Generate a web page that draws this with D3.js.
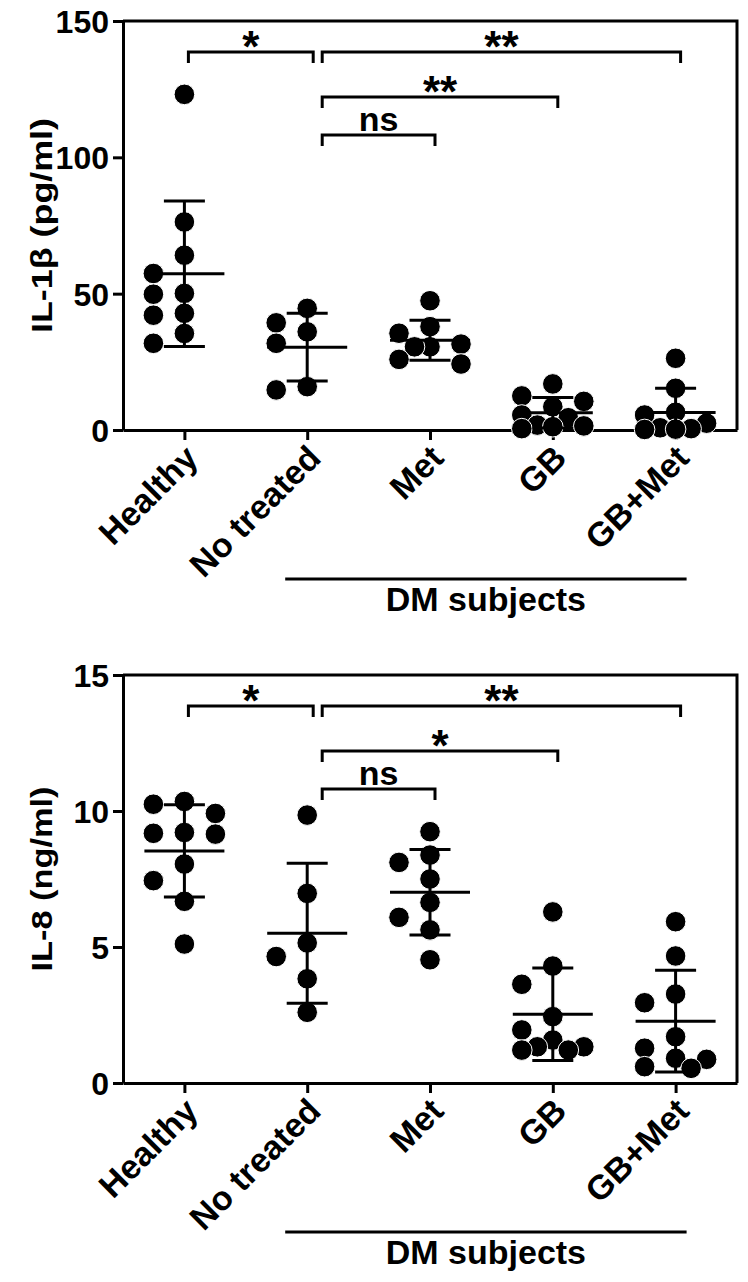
<!DOCTYPE html>
<html><head><meta charset="utf-8">
<script src="https://cdn.jsdelivr.net/npm/d3@7"></script>
<style>
body{margin:0;background:#fff}
svg{display:block}
text{font-family:"Liberation Sans",Arial,Helvetica,sans-serif;font-weight:bold;fill:#000}
</style>
</head><body>
<svg id="chart" width="748" height="1282"></svg>
<script>
// ---------- data ----------
const categories = ["Healthy", "No treated", "Met", "GB", "GB+Met"];

// IL-1β (pg/ml)
const il1bHealthy   = [123.1, 76.3, 64.1, 57.4, 50.1, 49.8, 42.8, 42.1, 35.4, 31.8];
const il1bNoTreated = [44.6, 39.3, 36.0, 31.8, 15.9, 14.7];
const il1bMet       = [47.4, 37.9, 35.5, 31.5, 30.5, 30.5, 25.9, 24.2];
const il1bGB        = [16.9, 12.5, 10.5, 8.5, 5.5, 4.5, 1.8, 1.5, 1.2, 0.5];
const il1bGBMet     = [26.3, 15.3, 6.5, 5.5, 2.5, 0.8, 0.5, 0.3, 0.2];
const il1bTicks     = [0, 50, 100, 150];
const il1bSignif    = ["*", "**", "**", "ns"];

// IL-8 (ng/ml)
const il8Healthy    = [10.35, 10.25, 9.91, 9.21, 9.18, 9.15, 8.05, 7.44, 6.68, 5.11];
const il8NoTreated  = [9.85, 6.97, 5.15, 4.65, 3.83, 2.6];
const il8Met        = [9.24, 8.38, 8.11, 7.5, 6.64, 6.09, 5.63, 4.53];
const il8GB         = [6.29, 4.3, 3.63, 2.44, 1.95, 1.58, 1.33, 1.33, 1.21, 1.21];
const il8GBMet      = [5.93, 4.67, 3.27, 2.95, 1.70, 1.28, 0.91, 0.87, 0.6, 0.54];
const il8Ticks      = [0, 5, 10, 15];
const il8Signif     = ["*", "**", "*", "ns"];

// comparisons: [group A, group B, bracket level]
const comparisons = [["Healthy", "No treated", 0], ["No treated", "GB+Met", 0], ["No treated", "GB", 1], ["No treated", "Met", 2]];
const groupLabel = "DM subjects";

// ---------- layout ----------
const svg = d3.select("#chart");
const left = 123, right = 737;
const x = d3.scalePoint().domain(categories).range([left, right]).padding(0.5);
const R = 10.3;
const font = '"Liberation Sans",Arial,sans-serif';

function swarm(vals, y, D, s) {
  const placed = [];
  const cands = [0, -s, s, -s / 2, s / 2];
  return vals.map(v => {
    const py = y(v);
    let best = 0, bestScore = -Infinity;
    for (const c of cands) {
      let m = Infinity;
      for (const p of placed) m = Math.min(m, Math.hypot(p.dx - c, p.y - py));
      if (m >= D) { best = c; break; }
      if (m > bestScore) { bestScore = m; best = c; }
    }
    placed.push({dx: best, y: py});
    return best;
  });
}

function panel(cfg) {
  const {top, bottom, groups, ticks, signif, title, titleLen} = cfg;
  const g = svg.append("g");
  const y = d3.scaleLinear().domain([ticks[0], ticks[ticks.length - 1]]).range([bottom, top]);

  // box top / right
  g.append("path")
    .attr("d", `M${left},${top}H${right}V${bottom}`)
    .attr("fill", "none").attr("stroke", "#000").attr("stroke-width", 3);

  // y axis
  const ya = g.append("g").attr("transform", `translate(${left},0)`)
    .call(d3.axisLeft(y).tickValues(ticks).tickSize(10).tickSizeOuter(0).tickPadding(4));
  ya.select(".domain").attr("stroke-width", 3);
  ya.selectAll(".tick line").attr("stroke-width", 3);
  ya.selectAll(".tick text").attr("font-size", 32).attr("font-family", font).attr("font-weight", "bold").attr("dy", "0.36em");

  // x axis
  const xa = g.append("g").attr("transform", `translate(0,${bottom})`)
    .call(d3.axisBottom(x).tickSize(10).tickSizeOuter(0));
  xa.select(".domain").attr("stroke-width", 3);
  xa.selectAll(".tick line").attr("stroke-width", 3);
  xa.selectAll(".tick text")
    .attr("font-size", 34).attr("font-family", font).attr("font-weight", "bold")
    .attr("y", 0).attr("dy", 0)
    .attr("transform", "translate(15,30) rotate(-45)")
    .style("text-anchor", "end");

  // y title
  g.append("text")
    .attr("transform", `translate(52,${(top + bottom) / 2}) rotate(-90)`)
    .attr("text-anchor", "middle").attr("font-size", 30)
    .attr("textLength", titleLen).attr("lengthAdjust", "spacingAndGlyphs")
    .text(title);

  // dots + error bars
  categories.forEach((c, i) => {
    const vals = groups[i];
    const offs = swarm(vals, y, 2 * R * 0.95, 31);
    const cx = x(c);
    g.append("g").selectAll("circle").data(vals).join("circle")
      .attr("cx", (d, j) => cx + offs[j]).attr("cy", d => y(d)).attr("r", R)
      .attr("fill", "#000").attr("stroke", "#fff").attr("stroke-width", 1);
    const m = d3.mean(vals), sd = d3.deviation(vals);
    const hi = m + sd, lo = Math.max(m - sd, ticks[0]);
    const eb = g.append("g").attr("stroke", "#000").attr("stroke-width", 3);
    eb.append("line").attr("x1", cx).attr("x2", cx).attr("y1", y(hi)).attr("y2", y(lo));
    eb.append("line").attr("x1", cx - 40).attr("x2", cx + 40).attr("y1", y(m)).attr("y2", y(m));
    eb.append("line").attr("x1", cx - 20.5).attr("x2", cx + 20.5).attr("y1", y(hi)).attr("y2", y(hi));
    if (m - sd >= ticks[0])
      eb.append("line").attr("x1", cx - 20.5).attr("x2", cx + 20.5).attr("y1", y(lo)).attr("y2", y(lo));
  });

  // significance brackets
  const levels = [31, 76, 114];
  comparisons.forEach(([a, b, lv], k) => {
    const x1 = x(a) + (a === "Healthy" ? 4 : 15);
    const x2 = x(b) + (b === "No treated" ? 6 : 5);
    const by = top + levels[lv];
    g.append("path").attr("d", `M${x1},${by + 11}V${by}H${x2}V${by + 11}`)
      .attr("fill", "none").attr("stroke", "#000").attr("stroke-width", 3);
    const s = signif[k];
    const t = g.append("text").attr("x", (x1 + x2) / 2).attr("text-anchor", "middle").text(s);
    if (s === "ns") t.attr("y", by - 4).attr("font-size", 34);
    else t.attr("y", by + 10).attr("font-size", 44);
  });

  // DM subjects group line
  const gx1 = x("No treated") - 22, gx2 = x("GB+Met") + 11;
  g.append("line").attr("x1", gx1).attr("x2", gx2)
    .attr("y1", bottom + 149).attr("y2", bottom + 149)
    .attr("stroke", "#000").attr("stroke-width", 3);
  g.append("text").attr("x", (gx1 + gx2) / 2).attr("y", bottom + 181)
    .attr("text-anchor", "middle").attr("font-size", 34).text(groupLabel);
}

panel({top: 21, bottom: 430, groups: [il1bHealthy, il1bNoTreated, il1bMet, il1bGB, il1bGBMet],
       ticks: il1bTicks, signif: il1bSignif, title: "IL-1β  (pg/ml)", titleLen: 215});
panel({top: 675, bottom: 1083, groups: [il8Healthy, il8NoTreated, il8Met, il8GB, il8GBMet],
       ticks: il8Ticks, signif: il8Signif, title: "IL-8 (ng/ml)", titleLen: 185});
</script>
</body></html>
